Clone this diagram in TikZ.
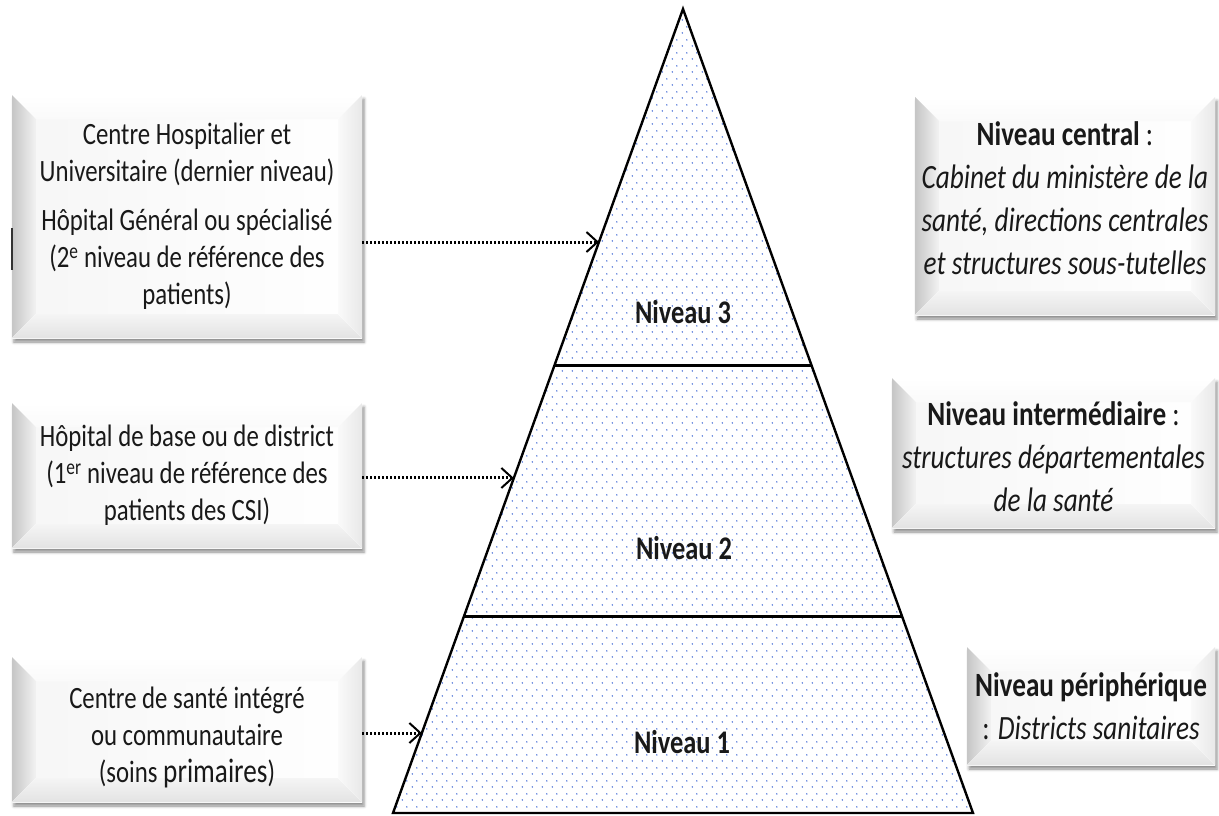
\documentclass[tikz,border=0pt]{standalone}
\usepackage{fontspec}
\setmainfont{Carlito}[FakeStretch=0.8]
\usetikzlibrary{arrows.meta,calc,shadows.blur,patterns}

% staggered dot grid used to fill the pyramid
\pgfdeclarepatternformonly{pyrdots}{\pgfqpoint{0pt}{0pt}}{\pgfqpoint{10pt}{13pt}}{\pgfqpoint{10pt}{13pt}}{%
  \pgfpathcircle{\pgfqpoint{2.5pt}{3.25pt}}{0.85pt}%
  \pgfpathcircle{\pgfqpoint{7.5pt}{9.75pt}}{0.85pt}%
  \pgfusepath{fill}}

\definecolor{dotblue}{RGB}{70,110,215}
\newcommand\bevw{24pt}

\tikzset{
  bevel/.style={inner sep=0pt, fill=white,
    blur shadow={shadow xshift=2pt, shadow yshift=-4pt, shadow blur radius=3pt, shadow opacity=45},
    path picture={
      \coordinate (pA) at (path picture bounding box.north west);
      \coordinate (pB) at (path picture bounding box.north east);
      \coordinate (pC) at (path picture bounding box.south east);
      \coordinate (pD) at (path picture bounding box.south west);
      \coordinate (qA) at ($(pA)+(\bevw,-\bevw)$);
      \coordinate (qB) at ($(pB)+(-\bevw,-\bevw)$);
      \coordinate (qC) at ($(pC)+(-\bevw,\bevw)$);
      \coordinate (qD) at ($(pD)+(\bevw,\bevw)$);
      \fill[left color=gray!7, right color=white] (pA) rectangle (pC);
      \fill[top color=white, bottom color=gray!4] (pA) -- (pB) -- (qB) -- (qA) -- cycle;
      \fill[left color=gray!45, right color=gray!10] (pA) -- (qA) -- (qD) -- (pD) -- cycle;
      \fill[top color=gray!8, bottom color=gray!22] (pD) -- (qD) -- (qC) -- (pC) -- cycle;
      \fill[left color=gray!4, right color=gray!18] (pB) -- (pC) -- (qC) -- (qB) -- cycle;
    }},
  ltxt/.style={align=center, text=black!90, inner sep=0pt,
    font=\fontsize{31}{37}\selectfont},
  rtxt/.style={align=center, text=black!90, inner sep=0pt,
    font=\fontsize{34}{43}\selectfont},
  lvl/.style={font=\fontsize{33}{36}\selectfont\bfseries, text=black!90},
  arr/.style={line width=3pt, dash pattern=on 2.2pt off 1.8pt,
    -{Straight Barb[length=11pt,width=20pt,line width=2pt]}},
}

\begin{document}
\begin{tikzpicture}[x=1pt,y=-1pt]
\useasboundingbox (0,0) rectangle (1219,815);

% pyramid
\coordinate (apex) at (683,9);
\coordinate (bl) at (393,813);
\coordinate (br) at (973,813);
\fill[white] (apex) -- (br) -- (bl) -- cycle;
\fill[pattern=pyrdots, pattern color=dotblue] (apex) -- (br) -- (bl) -- cycle;
\draw[line width=3pt] ($(apex)!0.444!(bl)$) -- ($(apex)!0.444!(br)$);
\draw[line width=3pt] ($(apex)!0.755!(bl)$) -- ($(apex)!0.755!(br)$);
\draw[line width=2.4pt, line join=miter] (apex) -- (br) -- (bl) -- cycle;

\node[lvl] (n3) at (683,312) {Niveau 3};
\node[lvl] (n2) at (684,548) {Niveau 2};
\node[lvl] (n1) at (682,742) {Niveau 1};

% points where the arrows meet the left side
\coordinate (t1) at ($(apex)!0.2898!(bl)$);
\coordinate (t2) at ($(apex)!0.5833!(bl)$);
\coordinate (t3) at ($(apex)!0.9005!(bl)$);

% left column: health facilities
\node[bevel, minimum width=350pt, minimum height=243pt] (b1) at (187,216.5) {};
\node[bevel, minimum width=350pt, minimum height=145pt] (b2) at (187,475.5) {};
\node[bevel, minimum width=350pt, minimum height=145pt] (b3) at (187,729.5) {};

\node[ltxt] (b1t) at (b1.center)
  {Centre Hospitalier et\\ Universitaire (dernier niveau)\\[12pt]
   Hôpital Général ou spécialisé\\ (2\textsuperscript{e} niveau de référence des\\ patients)};
\node[ltxt] (b2t) at (b2.center)
  {Hôpital de base ou de district\\ (1\textsuperscript{er} niveau de référence des\\ patients des CSI)};
\node[ltxt] (b3t) at ($(b3.center)+(0,8)$)
  {Centre de santé intégré\\ ou communautaire\\ (soins {\fontsize{34}{37}\selectfont primaires})};

\draw[gray!40!black, line width=1.5pt] (12,228) -- (12,270);

% right column: administrative levels
\node[bevel, minimum width=300pt, minimum height=218pt] (r1) at (1065,206) {};
\node[bevel, minimum width=323pt, minimum height=150pt] (r2) at (1053.5,453) {};
\node[bevel, minimum width=248pt, minimum height=118pt] (r3) at (1091,706) {};

\node[rtxt] (r1t) at ($(r1.center)+(0,-8)$)
  {\textbf{Niveau central} :\\ \textit{Cabinet du ministère de la}\\
   \textit{santé, directions centrales}\\ \textit{et structures sous-tutelles}};
\node[rtxt] (r2t) at ($(r2.center)+(0,4)$)
  {\textbf{Niveau intermédiaire} :\\ \textit{structures départementales}\\ \textit{de la santé}};
\node[rtxt] (r3t) at (r3.center)
  {\textbf{Niveau périphérique}\\ : \textit{Districts sanitaires}};

% referral arrows
\draw[arr] (b1.east |- t1) -- (t1);
\draw[arr] (b2.east |- t2) -- (t2);
\draw[arr] (b3.east |- t3) -- (t3);
\end{tikzpicture}
\end{document}
